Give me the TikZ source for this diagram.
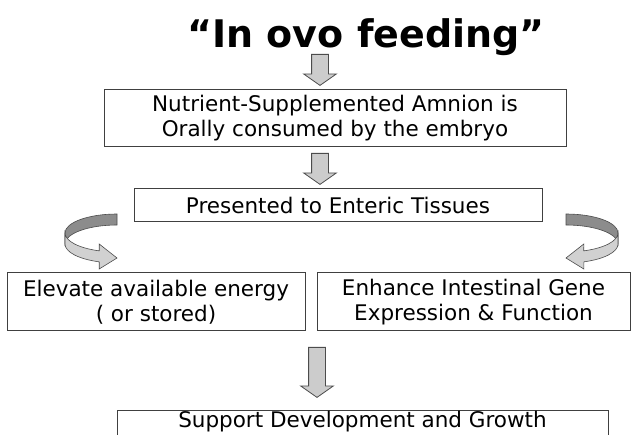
\documentclass[tikz,border=0pt]{standalone}
\usepackage{fontspec}
\setmainfont{DejaVu Sans}
\usetikzlibrary{shapes.arrows}

\def\rx{52}

\begin{document}
\begin{tikzpicture}[x=1pt, y=1pt]
        \tikzstyle{box}  = [draw=black!75, line width=1pt, fill=white, align=center, inner sep=0pt, font=\fontsize{21.5}{25}\selectfont]
        \tikzstyle{blockarrow} = [single arrow, draw=black!70, fill=black!20, line width=0.8pt, rotate=-90, anchor=tail,
                inner sep=8pt, single arrow head extend=8pt, single arrow tip angle=110]
        \tikzstyle{backside}  = [draw=black!70, fill=black!45, line width=0.6pt]
        \tikzstyle{frontside} = [draw=black!70, fill=black!18, line width=0.6pt]

        \useasboundingbox (0,0) rectangle (632,434);
        \clip (0,0) rectangle (632,434);

                \node [font=\fontsize{38}{38}\selectfont\bfseries](title) at (366, 397) {“In ovo feeding”};

                \node [box, minimum width=462pt, minimum height=57pt](amnion) at (335, 315.5)
                        {Nutrient-Supplemented Amnion is\\Orally consumed by the embryo};
                \node [box, minimum width=408pt, minimum height=33pt](enteric) at (338, 228.5) {Presented to Enteric Tissues};
                \node [box, minimum width=298pt, minimum height=58pt](energy) at (156, 132) {Elevate available energy\\( or stored)};
                \node [box, minimum width=313pt, minimum height=58pt](gene) at (473.5, 132) {Enhance Intestinal Gene\\Expression \& Function};
                \node [box, minimum width=491pt, text height=17pt, text depth=15pt, anchor=north](growth) at (362.5, 24)
                        {Support Development and Growth};

                \node [blockarrow, minimum height=31pt](a1) at (320, 380) {};
                \node [blockarrow, minimum height=31pt](a2) at (320, 281) {};
                \node [blockarrow, minimum height=50pt](a3) at (317, 87) {};

                % curled arrows beside the enteric box
                \foreach \cx/\dir in {117/1, 566/-1}
                {
                        \begin{scope}[shift={(\cx,0)}, xscale=\dir]
                                \draw [backside] (0,220) arc[start angle=90, end angle=180, x radius=\rx, y radius=19]
                                        -- ++(0,-11) arc[start angle=180, end angle=90, x radius=\rx, y radius=19] -- cycle;
                                \draw [frontside] (-\rx,201) arc[start angle=180, end angle=250, x radius=\rx, y radius=19]
                                        -- (-17.8,190) -- (0,176) -- (-17.8,165) -- (-17.8,172.15)
                                        arc[start angle=250, end angle=180, x radius=\rx, y radius=19] -- cycle;
                        \end{scope}
                }
\end{tikzpicture}
\end{document}
